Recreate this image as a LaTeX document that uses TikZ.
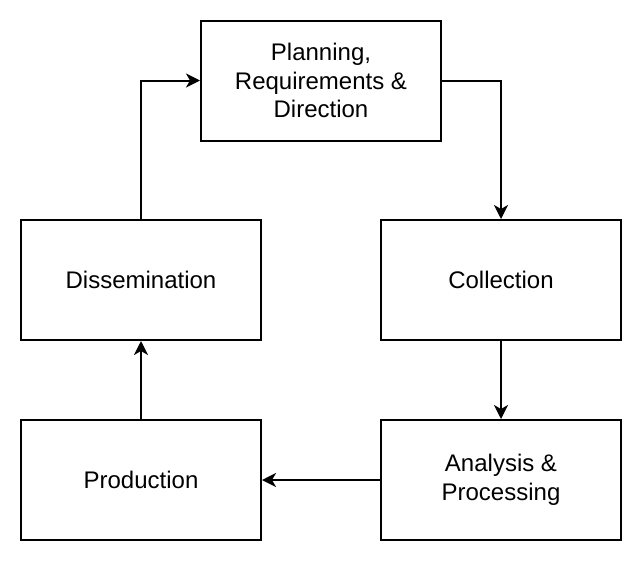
\documentclass[tikz,border=0pt]{standalone}
\usepackage{fontspec}
\setmainfont{Liberation Sans}
\usetikzlibrary{arrows.meta}
\begin{document}
\begin{tikzpicture}[x=1pt,y=-1pt,
  stage/.style={draw=black,line width=2pt,minimum width=240pt,minimum height=120pt,inner sep=0pt,align=center,font=\fontsize{24}{28.8}\selectfont},
  flow/.style={line width=2pt,-{Stealth[length=14pt,width=14pt,inset=4pt]}}]
\useasboundingbox (0,0) rectangle (642,562);
\node[stage] (plan) at (321,80.5) {Planning,\\Requirements \&\\Direction};
\node[stage] (diss) at (141,280) {Dissemination};
\node[stage] (coll) at (501,280) {Collection};
\node[stage] (prod) at (141,480) {Production};
\node[stage] (anal) at (501,480) {Analysis \&\\Processing};
\draw[flow] (plan.east) -| (coll.north);
\draw[flow] (coll.south) -- (anal.north);
\draw[flow] (anal.west) -- (prod.east);
\draw[flow] (prod.north) -- (diss.south);
\draw[flow] (diss.north) |- (plan.west);
\end{tikzpicture}
\end{document}
